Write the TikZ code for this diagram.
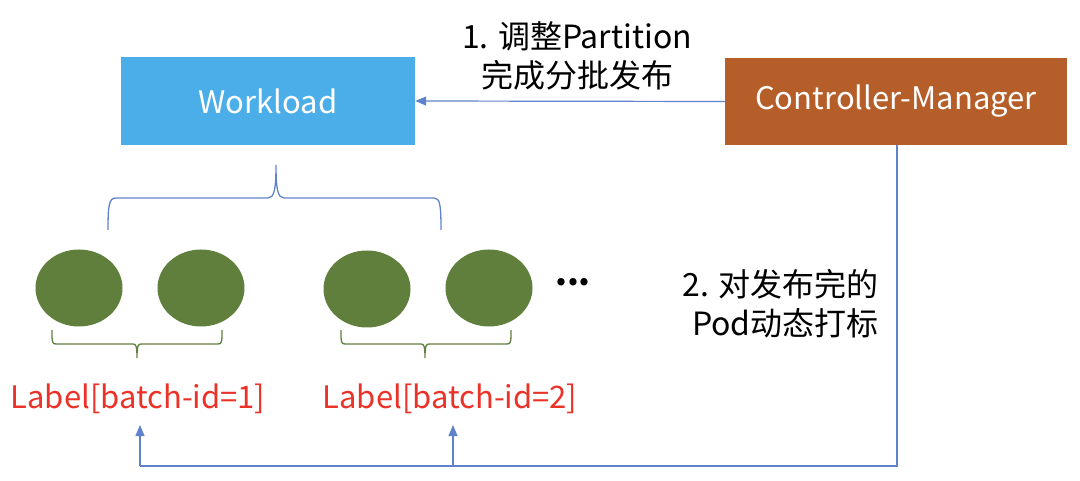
\documentclass[tikz,border=0pt]{standalone}
\usepackage{fontspec}
\setmainfont{Noto Sans CJK SC}
\usetikzlibrary{arrows.meta}
\definecolor{wblue}{RGB}{76,174,232}
\definecolor{cmbrown}{RGB}{181,94,42}
\definecolor{lblue}{RGB}{96,130,205}
\definecolor{podgreen}{RGB}{96,127,60}
\definecolor{lred}{RGB}{235,50,40}
\tikzset{
  box/.style={draw=none, minimum height=88pt, text=white, font=\fontsize{31}{36}\selectfont, inner sep=0pt},
  pod/.style={ellipse, fill=podgreen, minimum width=87pt, minimum height=77pt, inner sep=0pt},
  conn/.style={draw=lblue, line width=1.2pt},
  arr/.style={conn, -{Triangle[width=9pt,length=11pt]}},
  note/.style={font=\fontsize{32}{39}\selectfont, align=center, inner sep=0pt},
  lab/.style={text=lred, font=\fontsize{31}{36}\selectfont, inner sep=0pt, anchor=base},
  bluebrace/.style={draw=lblue, line width=1.3pt},
  greenbrace/.style={draw=podgreen, line width=1.3pt}
}
\usetikzlibrary{shapes.geometric}
\begin{document}
\begin{tikzpicture}[x=1pt,y=-1pt]
\useasboundingbox (0,0) rectangle (1080,481);
\node[box, fill=wblue, minimum width=294pt] (wl) at (268,101) {Workload};
\node[box, fill=cmbrown, minimum width=342pt, minimum height=87pt] (cm) at (896,101.5) {Controller-Manager};
\draw[arr] (cm.west) -- (wl.east);
\node[note] (n1) at (577,56) {1. 调整Partition\\完成分批发布};
% blue brace
\draw[bluebrace] (108,230) .. controls (108,205) and (109,198) .. (116,198) -- (268,198)
  .. controls (274,198) and (276,190) .. (276,165)
  .. controls (276,190) and (278,198) .. (284,198) -- (434,198)
  .. controls (440,198) and (441,205) .. (441,230);
\node[pod] (p1) at (79,288) {};
\node[pod] (p2) at (201,288) {};
\node[pod] (p3) at (367,289) {};
\node[pod] (p4) at (489,288) {};
\node[font=\fontsize{34}{36}\selectfont, inner sep=0pt] (dots) at (573,282) {\textbf{...}};
% green braces
\draw[greenbrace] (52,330) .. controls (52,342) and (52,344) .. (56,344) -- (133,344)
  .. controls (136,344) and (137,346) .. (137,358)
  .. controls (137,346) and (138,344) .. (141,344) -- (218,344)
  .. controls (222,344) and (222,342) .. (222,330);
\draw[greenbrace] (341,330) .. controls (341,342) and (341,344) .. (345,344) -- (421,344)
  .. controls (424,344) and (425,346) .. (425,358)
  .. controls (425,346) and (426,344) .. (429,344) -- (507,344)
  .. controls (511,344) and (511,342) .. (511,330);
\node[lab] (l1) at (138,408) {Label[batch-id=1]};
\node[lab] (l2) at (450,408) {Label[batch-id=2]};
\node[note, align=right, anchor=east] (n2) at (879,304) {2. 对发布完的\\Pod动态打标};
\coordinate (bot) at (897,466);
\coordinate (a1) at (140,425);
\coordinate (a2) at (453,425);
\draw[conn] (cm.south -| bot) -- (bot) -- (a1 |- bot);
\draw[arr] (a1 |- bot) -- (a1);
\draw[arr] (a2 |- bot) -- (a2);
\end{tikzpicture}
\end{document}
